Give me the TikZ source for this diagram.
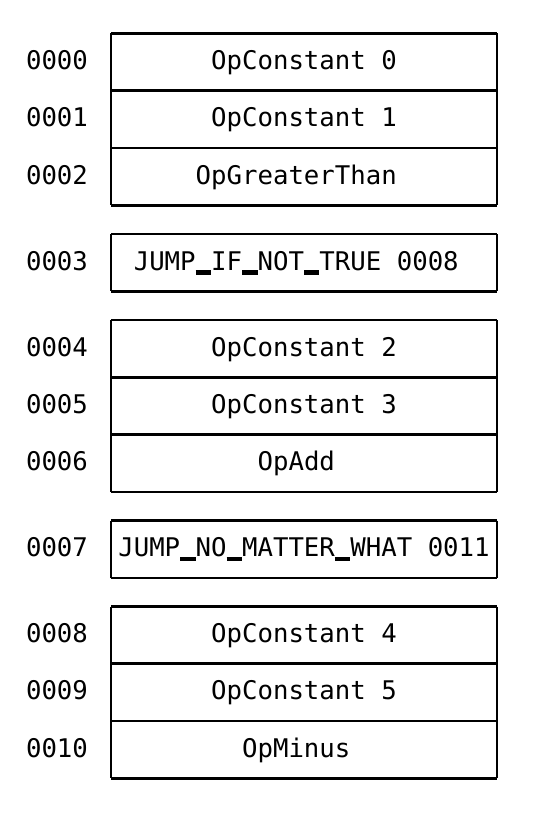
\documentclass[tikz,border=0pt]{standalone}
\usepackage{fontspec}
\setmonofont{DejaVu Sans Mono}
\newcommand\usc{\rule[-0.19em]{0.602em}{0.18em}}
\begin{document}
\begin{tikzpicture}[x=1pt,y=-1pt,
  txt/.style={font=\ttfamily\fontsize{25.7}{30}\selectfont,text height=18.7pt,text depth=4pt},
  cell/.style={txt,minimum width=386pt,minimum height=57.3pt,inner sep=0pt,outer sep=0pt},
  addr/.style={txt,inner sep=0pt},
  hline/.style={line width=2.7pt},
  vline/.style={line width=2pt}]
\useasboundingbox (0,0) rectangle (536,816);
\def\rowy#1{33.5+57.3*#1+28.65}
\node[cell] (c0) at (304,{\rowy{0}}) {OpConstant 0};
\node[cell] (c1) at (304,{\rowy{1}}) {OpConstant 1};
\node[cell] (c2) at (304,{\rowy{2}}) {OpGreaterThan\phantom{0}};
\node[cell] (c3) at (304,{\rowy{3.5}}) {JUMP\usc IF\usc NOT\usc TRUE 0008\phantom{0}};
\node[cell] (c4) at (304,{\rowy{5}}) {OpConstant 2};
\node[cell] (c5) at (304,{\rowy{6}}) {OpConstant 3};
\node[cell] (c6) at (304,{\rowy{7}}) {OpAdd\phantom{0}};
\node[cell] (c7) at (304,{\rowy{8.5}}) {JUMP\usc NO\usc MATTER\usc WHAT 0011};
\node[cell] (c8) at (304,{\rowy{10}}) {OpConstant 4};
\node[cell] (c9) at (304,{\rowy{11}}) {OpConstant 5};
\node[cell] (c10) at (304,{\rowy{12}}) {OpMinus\phantom{0}};
\foreach \c in {c0,c1,c2,c3,c4,c5,c6,c7,c8,c9,c10}{
  \draw[vline] (\c.north west) -- (\c.south west);
  \draw[vline] (\c.north east) -- (\c.south east);
  \draw[hline] (\c.north west) -- (\c.north east);
  \draw[hline] (\c.south west) -- (\c.south east);
}
\node[addr] (a0) at (57,{\rowy{0}}) {0000};
\node[addr] (a1) at (57,{\rowy{1}}) {0001};
\node[addr] (a2) at (57,{\rowy{2}}) {0002};
\node[addr] (a3) at (57,{\rowy{3.5}}) {0003};
\node[addr] (a4) at (57,{\rowy{5}}) {0004};
\node[addr] (a5) at (57,{\rowy{6}}) {0005};
\node[addr] (a6) at (57,{\rowy{7}}) {0006};
\node[addr] (a7) at (57,{\rowy{8.5}}) {0007};
\node[addr] (a8) at (57,{\rowy{10}}) {0008};
\node[addr] (a9) at (57,{\rowy{11}}) {0009};
\node[addr] (a10) at (57,{\rowy{12}}) {0010};
\end{tikzpicture}
\end{document}
